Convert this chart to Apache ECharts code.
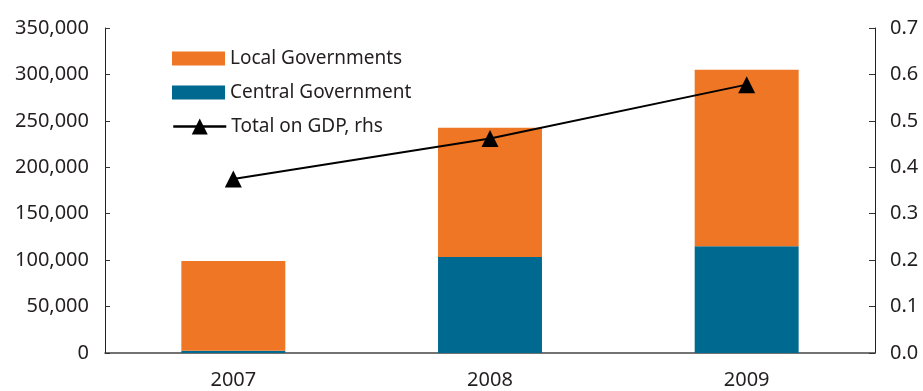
<!DOCTYPE html>
<html>
<head>
    <meta charset="utf-8">
    <title>Local and central government spending</title>
    <script src="https://cdn.jsdelivr.net/npm/echarts@6/dist/echarts.min.js"></script>
</head>
<style>
    html, body { margin: 0; padding: 0; background: #fff; }
    #chart { width: 923px; height: 391px; }
</style>
<body>
<div id="chart"></div>
<script>
    // data
    var years = ['2007', '2008', '2009'];
    var central = [2500, 103500, 115000];
    var local = [96500, 139000, 190000];   // stacked on top of central
    var totalOnGdp = [0.375, 0.462, 0.578];

    var textColor = '#231f20';
    var font = '"Noto Sans", "Open Sans", sans-serif';
    var legendText = { fontSize: 19, color: textColor, fontFamily: font };

    var chart = echarts.init(document.getElementById('chart'));
    var option = {
        animation: false,
        textStyle: { fontFamily: font, color: textColor },
        grid: { left: 105, right: 48, top: 28, bottom: 38 },
        legend: [{
            orient: 'vertical',
            left: 167,
            top: 44,
            icon: 'rect',
            itemWidth: 53,
            itemHeight: 14,
            itemGap: 15,
            textStyle: legendText,
            data: ['Local Governments', 'Central Government']
        }, {
            left: 167,
            top: 112,
            itemWidth: 53,
            itemHeight: 20,
            lineStyle: { width: 2.5 },
            textStyle: legendText,
            data: ['Total on GDP, rhs']
        }],
        xAxis: {
            type: 'category',
            data: years,
            axisLine: { lineStyle: { color: '#444', width: 1.5 } },
            axisTick: { inside: true, length: 6, lineStyle: { color: '#333' } },
            axisLabel: { fontSize: 20, color: textColor, margin: 17 }
        },
        yAxis: [{
            type: 'value',
            min: 0, max: 350000, interval: 50000,
            splitLine: { show: false },
            axisLine: { show: true, lineStyle: { color: '#222' } },
            axisTick: { show: true, inside: true, length: 5, lineStyle: { color: '#333' } },
            axisLabel: {
                fontSize: 20, color: textColor, margin: 16,
                formatter: function (v) { return v.toLocaleString('en-US'); }
            }
        }, {
            type: 'value',
            min: 0, max: 0.7, interval: 0.1,
            position: 'right',
            splitLine: { show: false },
            axisLine: { show: true, lineStyle: { color: '#222' } },
            axisTick: { show: true, inside: true, length: 6, lineStyle: { color: '#333' } },
            axisLabel: {
                fontSize: 20, color: textColor, margin: 15,
                formatter: function (v) { return v.toFixed(1); }
            }
        }],
        series: [{
            name: 'Central Government',
            type: 'bar',
            stack: 'gov',
            barWidth: '40.5%',
            itemStyle: { color: '#006990' },
            data: central
        }, {
            name: 'Local Governments',
            type: 'bar',
            stack: 'gov',
            barWidth: '40.5%',
            itemStyle: { color: '#ef7625' },
            data: local
        }, {
            name: 'Total on GDP, rhs',
            type: 'line',
            yAxisIndex: 1,
            symbol: 'triangle',
            symbolSize: 17,
            lineStyle: { color: '#000', width: 2 },
            itemStyle: { color: '#000' },
            data: totalOnGdp
        }]
    };
    chart.setOption(option);
</script>
</body>
</html>
